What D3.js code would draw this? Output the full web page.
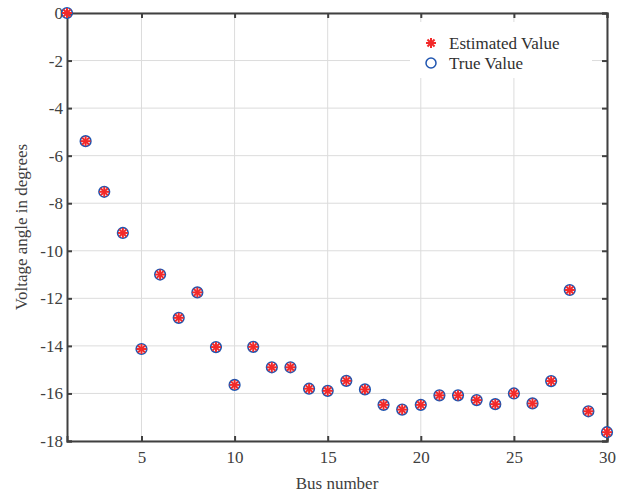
<!DOCTYPE html>
<html>
<head>
<meta charset="utf-8">
<script src="https://cdn.jsdelivr.net/npm/d3@7"></script>
<style>
  body { margin: 0; background: #fff; }
  svg { display: block; font-family: "Liberation Serif", "DejaVu Serif", serif; }
</style>
</head>
<body>
<svg width="618" height="496"></svg>
<script>
// bus numbers and voltage angles (degrees)
const buses = d3.range(1, 31);
const estimated = [0, -5.39, -7.52, -9.25, -14.13, -11.0, -12.82, -11.75, -14.05, -15.64,
  -14.04, -14.9, -14.9, -15.8, -15.89, -15.47, -15.83, -16.48, -16.68, -16.48,
  -16.08, -16.08, -16.28, -16.45, -16.0, -16.42, -15.48, -11.65, -16.75, -17.63];
const trueValue = [0, -5.39, -7.52, -9.25, -14.13, -11.0, -12.82, -11.75, -14.05, -15.64,
  -14.04, -14.9, -14.9, -15.8, -15.89, -15.47, -15.83, -16.48, -16.68, -16.48,
  -16.08, -16.08, -16.28, -16.45, -16.0, -16.42, -15.48, -11.65, -16.75, -17.63];
const xTicks = [5, 10, 15, 20, 25, 30];
const yTicks = [0, -2, -4, -6, -8, -10, -12, -14, -16, -18];

const svg = d3.select("svg");
const m = { left: 67, right: 11, top: 13, bottom: 55 };
const W = 618, H = 496;

const x = d3.scaleLinear().domain([1, 30]).range([m.left, W - m.right]);
const y = d3.scaleLinear().domain([-18, 0]).range([H - m.bottom, m.top]);

const axisColor = "#404040";

// grid
const grid = svg.append("g");
grid.selectAll(".gx").data(xTicks).join("line")
  .attr("x1", d => x(d)).attr("x2", d => x(d))
  .attr("y1", y(0)).attr("y2", y(-18))
  .attr("stroke", "#dcdcdc").attr("stroke-width", 1);
grid.selectAll(".gy").data(yTicks).join("line")
  .attr("x1", x(1)).attr("x2", x(30))
  .attr("y1", d => y(d)).attr("y2", d => y(d))
  .attr("stroke", "#dcdcdc").attr("stroke-width", 1);

// axes (ticks inward, box)
const tl = 5;
const fmt = d => String(d);  // plain hyphen minus like the original
svg.append("g").attr("transform", `translate(0,${y(-18)})`)
  .call(d3.axisBottom(x).tickValues(xTicks).tickSize(-tl).tickPadding(10).tickFormat(fmt));
svg.append("g").attr("transform", `translate(0,${y(0)})`)
  .call(d3.axisTop(x).tickValues(xTicks).tickSize(-tl).tickFormat(""));
svg.append("g").attr("transform", `translate(${x(1)},0)`)
  .call(d3.axisLeft(y).tickValues(yTicks).tickSize(-tl).tickPadding(4).tickFormat(fmt));
svg.append("g").attr("transform", `translate(${x(30)},0)`)
  .call(d3.axisRight(y).tickValues(yTicks).tickSize(-tl).tickFormat(""));

svg.selectAll(".domain").attr("stroke", axisColor).attr("stroke-width", 2);
svg.selectAll(".tick line").attr("stroke", axisColor).attr("stroke-width", 2);
svg.selectAll(".tick text").attr("fill", axisColor).style("font-size", "17px")
  .style("font-family", "'Liberation Serif', serif");

// legend box (white, covers grid)
const lg = svg.append("g");
lg.append("rect").attr("x", 410).attr("y", 22).attr("width", 182).attr("height", 56).attr("fill", "#fff");

// markers
const red = "#f22a2a", blue = "#1f55b0";
function star(g, cx, cy, r) {
  for (let k = 0; k < 4; k++) {
    const a = k * Math.PI / 4;
    g.append("line")
      .attr("x1", cx - r * Math.cos(a)).attr("y1", cy - r * Math.sin(a))
      .attr("x2", cx + r * Math.cos(a)).attr("y2", cy + r * Math.sin(a))
      .attr("stroke", red).attr("stroke-width", 2);
  }
}

const pts = svg.append("g");
pts.selectAll("circle").data(buses).join("circle")
  .attr("cx", d => x(d)).attr("cy", (d, i) => y(trueValue[i]))
  .attr("r", 5.3).attr("fill", "none").attr("stroke", blue).attr("stroke-width", 1.6);
buses.forEach((d, i) => star(pts, x(d), y(estimated[i]), 5));

// legend entries
star(lg, 431, 43, 5);
lg.append("circle").attr("cx", 431).attr("cy", 63).attr("r", 5)
  .attr("fill", "none").attr("stroke", blue).attr("stroke-width", 1.5);
lg.append("text").attr("x", 449).attr("y", 49).text("Estimated Value")
  .attr("fill", "#303030").style("font-size", "17px");
lg.append("text").attr("x", 449).attr("y", 69).text("True Value")
  .attr("fill", "#303030").style("font-size", "17px");

// labels
svg.append("text").attr("x", x(15.5)).attr("y", 489).attr("text-anchor", "middle")
  .attr("fill", axisColor).style("font-size", "17px").text("Bus number");
svg.append("text").attr("transform", `translate(27,${y(-9)}) rotate(-90)`)
  .attr("text-anchor", "middle").attr("fill", axisColor).style("font-size", "17px")
  .text("Voltage angle in degrees");
</script>
</body>
</html>
